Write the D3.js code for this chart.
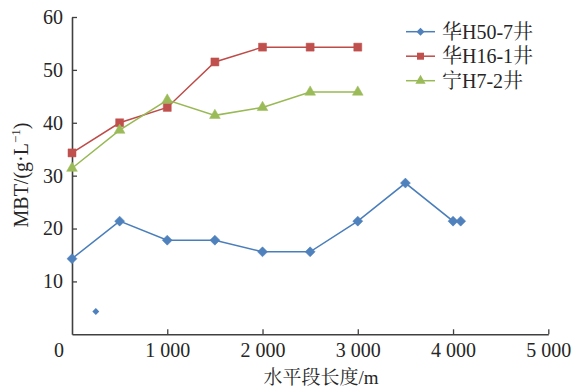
<!DOCTYPE html>
<html>
<head>
<meta charset="utf-8">
<script src="https://cdn.jsdelivr.net/npm/d3@7"></script>
<style>
body { margin: 0; background: #fff; }
svg text { font-family: "Liberation Serif", "Times New Roman", "Noto Serif CJK SC", "Noto Sans CJK SC", serif; fill: #262626; }
</style>
</head>
<body>
<svg id="chart" width="574" height="388"></svg>
<script>
// horizontal length (m) vs MBT (g/L)
var seriesNames = ["华H50-7井", "华H16-1井", "宁H7-2井"];
var colors = ["#4a7ebb", "#be4b48", "#98b954"];
var markerFill = ["#4f81bd", "#c0504d", "#9bbb59"];

var hua50 = [[0, 14.3], [500, 21.4], [1000, 17.8], [1500, 17.8], [2000, 15.6], [2500, 15.6], [3000, 21.4], [3500, 28.6], [4000, 21.4], [4080, 21.4]];
var hua16 = [[0, 34.3], [500, 40.0], [1000, 42.9], [1500, 51.5], [2000, 54.3], [2500, 54.3], [3000, 54.3]];
var ning7 = [[0, 31.4], [500, 38.6], [1000, 44.3], [1500, 41.4], [2000, 42.9], [2500, 45.8], [3000, 45.8]];
var strayPoint = [[250, 4.3]]; // lone blue point, not joined to the line

var xTicks = [1000, 2000, 3000, 4000, 5000];
var yTicks = [10, 20, 30, 40, 50, 60];

var plotLeft = 72, plotRight = 548.3, plotTop = 17, plotBottom = 334.3;

var svg = d3.select("#chart");

var x = d3.scaleLinear().domain([0, 5000]).range([plotLeft, plotRight]);
var y = d3.scaleLinear().domain([0, 60]).range([plotBottom, plotTop]);

var axisColor = "#404040";

var xAxis = svg.append("g")
	.attr("transform", "translate(0," + plotBottom + ")")
	.call(d3.axisBottom(x).tickValues(xTicks).tickSize(-5).tickPadding(9).tickSizeOuter(0)
		.tickFormat(function(d) { return d3.format(",")(d).replace(",", " "); }));

var yAxis = svg.append("g")
	.attr("transform", "translate(" + plotLeft + ",0)")
	.call(d3.axisLeft(y).tickValues(yTicks).tickSize(-5).tickPadding(9).tickSizeOuter(0));

[xAxis, yAxis].forEach(function(g) {
	g.select(".domain").attr("stroke", axisColor).attr("stroke-width", 1.6);
	g.selectAll(".tick line").attr("stroke", axisColor).attr("stroke-width", 1.3);
	g.selectAll(".tick text").style("font-size", "20px").attr("fill", "#262626");
});

// shared origin label
svg.append("text")
	.attr("x", 59)
	.attr("y", 357)
	.attr("text-anchor", "middle")
	.style("font-size", "20px")
	.text("0");

// axis titles
svg.append("text")
	.attr("x", 321)
	.attr("y", 384)
	.attr("text-anchor", "middle")
	.style("font-size", "19px")
	.text("水平段长度/m");

var yTitle = svg.append("text")
	.attr("transform", "translate(28," + 175 + ") rotate(-90)")
	.attr("text-anchor", "middle")
	.style("font-size", "20px");
yTitle.append("tspan").text("MBT/(g·L");
yTitle.append("tspan").attr("dy", -8).style("font-size", "13px").text("−1");
yTitle.append("tspan").attr("dy", 8).text(")");

var line = d3.line()
	.x(function(d) { return x(d[0]); })
	.y(function(d) { return y(d[1]); });

var allSeries = [hua50, hua16, ning7];
var symbols = [
	d3.symbol().type(d3.symbolSquare).size(50),
	d3.symbol().type(d3.symbolSquare).size(64),
	d3.symbol().type(d3.symbolTriangle).size(50)
];
var rotations = [45, 0, 0];

allSeries.forEach(function(data, i) {
	svg.append("path")
		.datum(data)
		.attr("fill", "none")
		.attr("stroke", colors[i])
		.attr("stroke-width", 1.5)
		.attr("d", line);

	svg.selectAll(".pt" + i)
		.data(data)
		.enter().append("path")
		.attr("class", "pt" + i)
		.attr("d", symbols[i])
		.attr("fill", markerFill[i])
		.attr("stroke", markerFill[i])
		.attr("stroke-width", 0.5)
		.attr("transform", function(d) {
			return "translate(" + x(d[0]) + "," + y(d[1]) + ") rotate(" + rotations[i] + ")";
		});
});

svg.selectAll(".stray")
	.data(strayPoint)
	.enter().append("path")
	.attr("class", "stray")
	.attr("d", d3.symbol().type(d3.symbolSquare).size(24))
	.attr("fill", markerFill[0])
	.attr("transform", function(d) {
		return "translate(" + x(d[0]) + "," + y(d[1]) + ") rotate(45)";
	});

// legend
var legendSymbols = [
	d3.symbol().type(d3.symbolSquare).size(32),
	d3.symbol().type(d3.symbolSquare).size(49),
	d3.symbol().type(d3.symbolTriangle).size(45)
];

var legend = svg.selectAll(".legend")
	.data(seriesNames)
	.enter().append("g")
	.attr("class", "legend")
	.attr("transform", function(d, i) { return "translate(406," + (31.7 + i * 24.5) + ")"; });

legend.append("line")
	.attr("x1", 0)
	.attr("x2", 29)
	.attr("stroke", function(d, i) { return colors[i]; })
	.attr("stroke-width", 1.5);

legend.append("path")
	.attr("d", function(d, i) { return legendSymbols[i](); })
	.attr("fill", function(d, i) { return markerFill[i]; })
	.attr("transform", function(d, i) { return "translate(14.5,0) rotate(" + rotations[i] + ")"; });

legend.append("text")
	.attr("x", 36)
	.attr("y", 7)
	.style("font-size", "20px")
	.text(function(d) { return d; });
</script>
</body>
</html>
